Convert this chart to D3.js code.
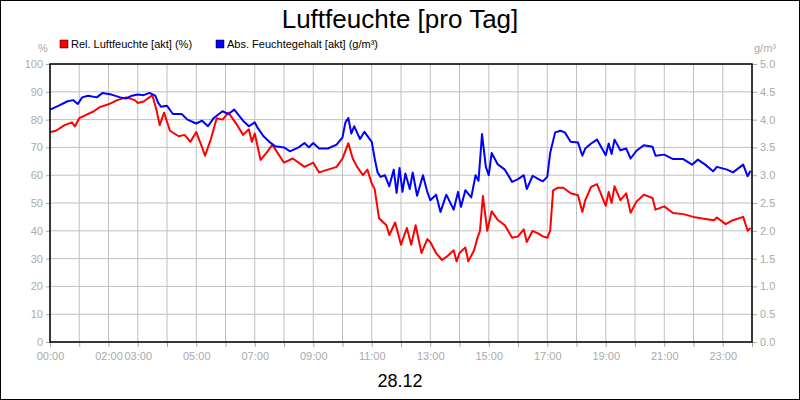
<!DOCTYPE html>
<html><head><meta charset="utf-8">
<script src="https://cdn.jsdelivr.net/npm/d3@7/dist/d3.min.js"></script>
<style>body{margin:0;background:#fff}svg{display:block;font-family:"Liberation Sans",Arial,sans-serif}</style>
</head><body><svg id="c" width="800" height="400"></svg>
<script>
const relTime=[0,0.2,0.5,0.75,0.85,1.0,1.2,1.5,1.7,2.0,2.3,2.6,2.9,3.0,3.2,3.5,3.65,3.75,3.9,4.1,4.4,4.6,4.8,5.0,5.2,5.3,5.5,5.7,5.9,6.1,6.4,6.6,6.8,6.9,7.0,7.2,7.4,7.6,8.0,8.3,8.7,9.0,9.2,9.5,9.8,10.0,10.2,10.35,10.5,10.7,10.85,11.0,11.1,11.25,11.5,11.6,11.8,12.0,12.2,12.35,12.5,12.7,12.9,13.0,13.2,13.4,13.6,13.8,13.9,14.0,14.2,14.3,14.5,14.6,14.7,14.8,14.95,15.1,15.3,15.55,15.8,16.0,16.2,16.3,16.5,16.7,16.85,17.0,17.1,17.2,17.37,17.55,17.8,18.05,18.2,18.3,18.5,18.7,19.0,19.1,19.2,19.3,19.5,19.7,19.85,20.05,20.3,20.6,20.7,21.0,21.3,21.65,22.0,22.3,22.7,22.8,23.1,23.35,23.7,23.85,23.95];
const relHum=[75.5,76,78,79,77.5,80.5,81.5,83,84.5,85.5,87,88,87,86,86.5,88.8,83,78,82.5,76,74,74.5,72,75.5,70,67,73,80.5,80,82.5,78,74.5,76.5,72,75,65.5,68,71,64.5,66,63,64.5,61,62,63,66,71.5,66,63,60,62,57,55,44.5,42,38.5,43,35,41,35,42,32,37,36,32,29.5,31,33,29,32,34,29,33,37,40,52.5,40,47,44,42,37.5,38,40.5,36,40,39,38,37.5,40,54.5,55.5,55.5,53.5,52.8,46.8,51,55.8,56.8,49,54,50,56,51,53.5,46.5,50.5,53,51.8,47.6,48.8,46.4,46,45,44.4,43.8,44.8,42.4,43.8,45,40,41];
const absTime=[0,0.3,0.6,0.8,0.95,1.1,1.3,1.6,1.8,2.1,2.4,2.6,2.8,3.0,3.2,3.4,3.6,3.7,3.8,4.0,4.2,4.5,4.7,5.0,5.2,5.4,5.6,5.9,6.1,6.3,6.6,6.8,7.0,7.1,7.3,7.5,7.7,8.0,8.2,8.5,8.7,8.85,9.0,9.2,9.5,9.8,10.0,10.1,10.2,10.3,10.4,10.6,10.75,11.0,11.1,11.2,11.3,11.45,11.6,11.75,11.85,11.95,12.05,12.15,12.3,12.4,12.55,12.75,12.9,13.0,13.2,13.35,13.55,13.8,13.95,14.05,14.2,14.4,14.55,14.65,14.77,14.9,15.0,15.1,15.3,15.55,15.8,16.0,16.2,16.3,16.5,16.7,16.85,17.0,17.1,17.27,17.45,17.6,17.8,18.05,18.2,18.3,18.5,18.7,19.0,19.1,19.2,19.3,19.5,19.7,19.85,20.05,20.3,20.6,20.7,21.0,21.3,21.65,21.95,22.15,22.4,22.67,22.8,23.15,23.35,23.7,23.85,23.95];
const absHum=[4.18,4.25,4.33,4.35,4.28,4.40,4.43,4.40,4.48,4.45,4.40,4.38,4.43,4.45,4.44,4.48,4.43,4.30,4.23,4.25,4.10,4.10,4.00,3.93,3.98,3.88,4.03,4.15,4.10,4.18,3.98,3.88,3.95,3.85,3.70,3.60,3.52,3.50,3.43,3.50,3.58,3.50,3.58,3.48,3.48,3.55,3.68,3.95,4.03,3.75,3.88,3.65,3.78,3.60,3.30,3.05,2.97,3.00,2.80,3.10,2.68,3.13,2.70,3.03,2.75,3.05,2.63,3.00,2.70,2.55,2.65,2.34,2.65,2.38,2.70,2.43,2.73,2.60,3.00,2.90,3.74,3.15,3.00,3.40,3.20,3.10,2.88,2.93,3.00,2.75,2.99,2.93,2.89,2.97,3.40,3.77,3.80,3.77,3.60,3.59,3.35,3.48,3.57,3.64,3.36,3.57,3.38,3.64,3.45,3.48,3.30,3.44,3.54,3.51,3.35,3.37,3.29,3.29,3.19,3.28,3.19,3.07,3.15,3.10,3.05,3.19,2.98,3.08];
const leftTicks=[0,10,20,30,40,50,60,70,80,90,100];
const rightTicks=[0,0.5,1.0,1.5,2.0,2.5,3.0,3.5,4.0,4.5,5.0];
const xLabels=[0,2,3,5,7,9,11,13,15,17,19,21,23];
const hours=d3.range(0,25);
const seriesNames=["Rel. Luftfeuchte [akt] (%)","Abs. Feuchtegehalt [akt] (g/m³)"];
const seriesColors=["#ff0000","#0000ff"];

const svg=d3.select("#c");
const L=50,R=752,T=64,B=342;
const x=d3.scaleLinear().domain([0,24]).range([L,R]);
const yL=d3.scaleLinear().domain([0,100]).range([B,T]);
const yR=d3.scaleLinear().domain([0,5]).range([B,T]);
const grey="#aaa";
svg.append("rect").attr("x",0.5).attr("y",0.5).attr("width",799).attr("height",399).attr("fill","#fff").attr("stroke","#000");
const g=svg.append("g");
g.selectAll(".vg").data(hours).join("line").attr("x1",d=>x(d)).attr("x2",d=>x(d)).attr("y1",T).attr("y2",B).attr("stroke","#c0c0c0");
g.selectAll(".hg").data(leftTicks).join("line").attr("x1",L).attr("x2",R).attr("y1",d=>yL(d)).attr("y2",d=>yL(d)).attr("stroke","#c0c0c0");
const la=svg.append("g").attr("transform",`translate(${L},0)`).call(d3.axisLeft(yL).tickValues(leftTicks).tickSize(4).tickPadding(3));
const ra=svg.append("g").attr("transform",`translate(${R},0)`).call(d3.axisRight(yR).tickValues(rightTicks).tickSize(5).tickPadding(3).tickFormat(d3.format(".1f")));
const xa=svg.append("g").attr("transform",`translate(0,${B})`).call(d3.axisBottom(x).tickValues(hours).tickSize(5).tickPadding(5).tickFormat(d=>xLabels.includes(d)?String(d).padStart(2,"0")+":00":""));
[la,ra,xa].forEach(a=>{a.select(".domain").remove();a.selectAll("line").attr("stroke",grey);a.selectAll("text").attr("fill",grey).attr("font-size",11).attr("font-family","Liberation Sans,Arial,sans-serif");});
function line(xs,ys,sc){const n=Math.min(xs.length,ys.length);return d3.line().x(i=>x(xs[i])).y(i=>sc(ys[i]))(d3.range(n));}
svg.append("path").attr("d",line(relTime,relHum,yL)).attr("fill","none").attr("stroke",seriesColors[0]).attr("stroke-width",2).attr("stroke-linejoin","round");
svg.append("path").attr("d",line(absTime,absHum,yR)).attr("fill","none").attr("stroke",seriesColors[1]).attr("stroke-width",2).attr("stroke-linejoin","round");
svg.append("rect").attr("x",L).attr("y",T).attr("width",R-L).attr("height",B-T).attr("fill","none").attr("stroke","#000").attr("stroke-width",1.5);
svg.append("text").attr("x",400).attr("y",28).attr("text-anchor","middle").attr("font-size",26).text("Luftfeuchte [pro Tag]");
svg.append("text").attr("x",400).attr("y",387).attr("text-anchor","middle").attr("font-size",18).text("28.12");
svg.append("text").attr("x",43).attr("y",52).attr("text-anchor","middle").attr("font-size",11).attr("fill",grey).text("%");
svg.append("text").attr("x",765).attr("y",52).attr("text-anchor","middle").attr("font-size",11).attr("fill",grey).text("g/m³");
const lx=[60,216];
seriesNames.forEach((n,i)=>{
  svg.append("rect").attr("x",lx[i]).attr("y",40).attr("width",8).attr("height",8).attr("fill",seriesColors[i]).attr("stroke","#000").attr("stroke-width",0.5);
  svg.append("text").attr("x",lx[i]+11).attr("y",48).attr("font-size",11).text(n);
});
</script></body></html>
